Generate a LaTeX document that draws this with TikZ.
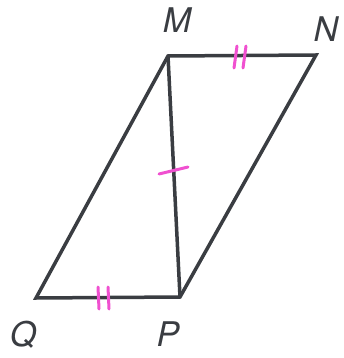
\documentclass[tikz,border=0pt]{standalone}
\usepackage{fontspec}
\setmainfont{TeX Gyre Heros}
\definecolor{edge}{HTML}{3A3D42}
\definecolor{tick}{HTML}{F050D0}
\begin{document}
\begin{tikzpicture}[x=1pt,y=-1pt,
  side/.style={draw=edge,line width=3.5pt,line join=miter},
  tickmark/.style={draw=tick,line width=3pt,line cap=round},
  lbl/.style={font=\fontsize{34}{34}\selectfont\itshape,text=edge,inner sep=0pt}]
\useasboundingbox (0,0) rectangle (343,358);
\coordinate (M) at (168,56);
\coordinate (N) at (316,55);
\coordinate (P) at (180,297);
\coordinate (Q) at (36,298);
\draw[side] (M) -- (N) -- (P) -- (Q) -- cycle;
\draw[side] (M) -- (P);
% double ticks on MN
\draw[tickmark] (234,68) -- (237,46);
\draw[tickmark] (243,68) -- (246,46);
% double ticks on QP
\draw[tickmark] (99,309) -- (98,287);
\draw[tickmark] (109,309) -- (108,287);
% single tick on MP
\draw[tickmark] (159,174) -- (188,167);
\node[lbl] (lM) at (177,20) {M};
\node[lbl] (lN) at (326,29) {N};
\node[lbl] (lQ) at (23,335) {Q};
\node[lbl] (lP) at (168,334) {P};
\end{tikzpicture}
\end{document}
